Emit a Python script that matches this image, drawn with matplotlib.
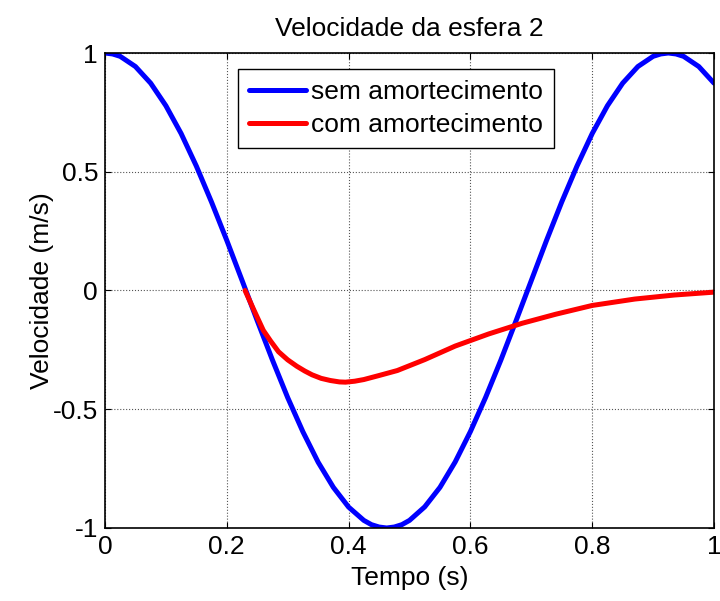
import matplotlib
matplotlib.use("Agg")
import matplotlib.pyplot as plt

plt.rcParams['font.family'] = ['Liberation Sans', 'DejaVu Sans']

# velocidade sem amortecimento
t_sem = [0.0, 0.0125, 0.025, 0.05, 0.075, 0.1, 0.125, 0.15, 0.175, 0.2, 0.225,
         0.25, 0.275, 0.3, 0.325, 0.35, 0.375, 0.4, 0.425, 0.4375, 0.45, 0.4625, 0.475,
         0.4875, 0.5, 0.525, 0.55, 0.575, 0.6, 0.625, 0.65, 0.675, 0.7, 0.725,
         0.75, 0.775, 0.8, 0.825, 0.85, 0.875, 0.9, 0.9125, 0.925, 0.9375, 0.95, 0.975, 1.0]
v_sem = [1.0, 0.996, 0.986, 0.943, 0.873, 0.778, 0.661, 0.524, 0.372, 0.211, 0.043,
         -0.127, -0.293, -0.451, -0.595, -0.723, -0.829, -0.912, -0.968, -0.986, -0.996, -1.0, -0.996,
         -0.986, -0.968, -0.911, -0.829, -0.722, -0.594, -0.450, -0.293, -0.127, 0.042, 0.211,
         0.373, 0.524, 0.661, 0.778, 0.873, 0.943, 0.986, 0.996, 1.0, 0.996, 0.986, 0.943, 0.873]

# velocidade com amortecimento
t_com = [0.23, 0.245, 0.26, 0.272, 0.285, 0.3, 0.315, 0.328, 0.34, 0.355, 0.37, 0.385, 0.395,
         0.41, 0.425, 0.45, 0.48, 0.525, 0.575, 0.63, 0.685, 0.74, 0.8, 0.87, 0.935, 1.0]
v_com = [0.0, -0.085, -0.168, -0.213, -0.258, -0.292, -0.319, -0.339, -0.355, -0.370, -0.379, -0.385, -0.386,
         -0.382, -0.375, -0.358, -0.337, -0.291, -0.234, -0.183, -0.138, -0.100, -0.063, -0.036, -0.019, -0.007]

xticks = [0, 0.2, 0.4, 0.6, 0.8, 1]
xlabels = ['0', '0.2', '0.4', '0.6', '0.8', '1']
yticks = [-1, -0.5, 0, 0.5, 1]
ylabels = ['-1', '-0.5', '0', '0.5', '1']

fig = plt.figure(figsize=(7.2, 6.01), dpi=100)
ax = fig.add_axes([0.1458, 0.1215, 0.8459, 0.7903])

ax.plot(t_sem, v_sem, color=(0, 0, 1), linewidth=3.6, label='sem amortecimento',
        solid_joinstyle='round', solid_capstyle='round')
ax.plot(t_com, v_com, color=(1, 0, 0), linewidth=3.6, label='com amortecimento',
        solid_joinstyle='round', solid_capstyle='round')

ax.set_xlim(0, 1)
ax.set_ylim(-1, 1)
ax.set_xticks(xticks)
ax.set_xticklabels(xlabels)
ax.set_yticks(yticks)
ax.set_yticklabels(ylabels)
ax.tick_params(direction='in', top=True, right=True, labelsize=19, length=4, pad=5)
ax.grid(True, color='#555555', linestyle=':', linewidth=0.8)
for s in ax.spines.values():
    s.set_linewidth(1.2)

ax.set_title('Velocidade da esfera 2', fontsize=19, pad=12)
ax.set_xlabel('Tempo (s)', fontsize=19, labelpad=5)
ax.set_ylabel('Velocidade (m/s)', fontsize=19, labelpad=-1)

leg = ax.legend(loc='upper left', bbox_to_anchor=(0.218, 0.966), fontsize=19,
                fancybox=False, framealpha=1, edgecolor='black',
                handlelength=2.16, handletextpad=0.2, borderpad=0.42,
                labelspacing=0.33, borderaxespad=0)
leg.get_frame().set_linewidth(1.0)

fig.savefig('out.png', dpi=100)
